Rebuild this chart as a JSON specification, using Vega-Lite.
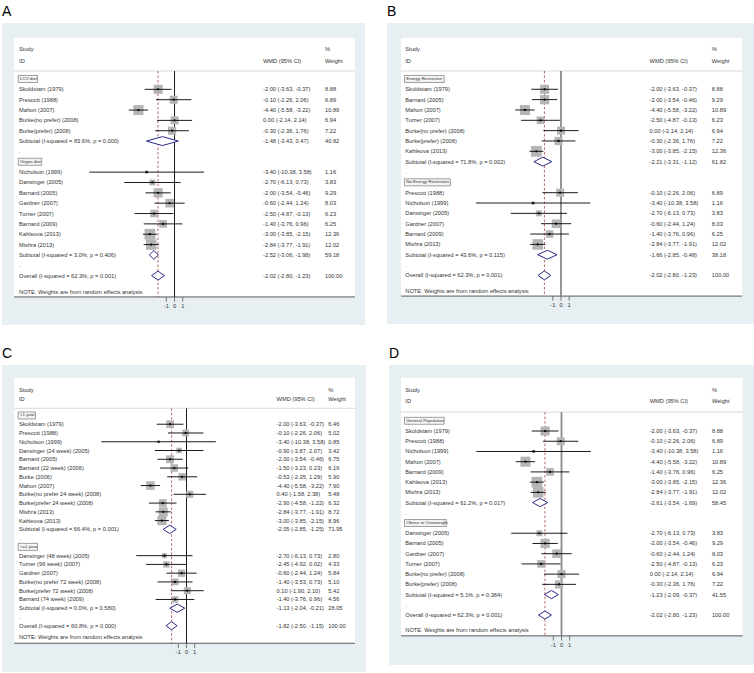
{
"$schema": "https://vega.github.io/schema/vega-lite/v6.json",
"background": "white",
"padding": {"left": 2, "top": 5, "right": 0, "bottom": 0},
"spacing": 22,
"config": {
  "view": {"fill": "#e7eff2", "stroke": null},
  "font": "Liberation Sans",
  "locale": {"number": {"decimal": ".", "thousands": ",", "grouping": [3], "currency": ["$", ""], "minus": "-"}},
  "title": {"fontSize": 14, "fontWeight": "normal", "anchor": "start", "offset": 4, "color": "black", "font": "Liberation Sans"},
  "text": {"font": "Liberation Sans", "color": "#333333", "align": "left", "baseline": "middle", "fontSize": 5.7}
},
"datasets": {"fp": [
{"p":"A","r":-2.9,"t":"h","label":"Study","wt":"%"},
{"p":"A","r":-1.77,"t":"h","label":"ID","ci":"WMD (95% CI)","wt":"Weight"},
{"p":"A","r":0,"t":"g","label":"LCV diet"},
{"p":"A","r":1,"t":"s","label":"Skoldstam (1979)","est":-2.00,"lo":-3.63,"hi":-0.37,"w":8.88},
{"p":"A","r":2,"t":"s","label":"Prescott (1988)","est":-0.10,"lo":-2.26,"hi":2.06,"w":6.89},
{"p":"A","r":3,"t":"s","label":"Mahon (2007)","est":-4.40,"lo":-5.58,"hi":-3.22,"w":10.89},
{"p":"A","r":4,"t":"s","label":"Burke(no prefer) (2008)","est":0.00,"lo":-2.14,"hi":2.14,"w":6.94},
{"p":"A","r":5,"t":"s","label":"Burke(prefer) (2008)","est":-0.30,"lo":-2.36,"hi":1.76,"w":7.22},
{"p":"A","r":6,"t":"u","label":"Subtotal  (I-squared = 83.6%, p = 0.000)","est":-1.48,"lo":-3.43,"hi":0.47,"w":40.82},
{"p":"A","r":7,"t":"d","label":"."},
{"p":"A","r":8,"t":"g","label":"Vegan diet"},
{"p":"A","r":9,"t":"s","label":"Nicholson (1999)","est":-3.40,"lo":-10.38,"hi":3.58,"w":1.16},
{"p":"A","r":10,"t":"s","label":"Dansinger  (2005)","est":-2.70,"lo":-6.13,"hi":0.73,"w":3.83},
{"p":"A","r":11,"t":"s","label":"Barnard (2005)","est":-2.00,"lo":-3.54,"hi":-0.46,"w":9.29},
{"p":"A","r":12,"t":"s","label":"Gardner (2007)","est":-0.60,"lo":-2.44,"hi":1.24,"w":8.03},
{"p":"A","r":13,"t":"s","label":"Turner (2007)","est":-2.50,"lo":-4.87,"hi":-0.13,"w":6.23},
{"p":"A","r":14,"t":"s","label":"Barnard (2009)","est":-1.40,"lo":-3.76,"hi":0.96,"w":6.25},
{"p":"A","r":15,"t":"s","label":"Kahleova (2013)","est":-3.00,"lo":-3.85,"hi":-2.15,"w":12.36},
{"p":"A","r":16,"t":"s","label":"Mishra (2013)","est":-2.84,"lo":-3.77,"hi":-1.91,"w":12.02},
{"p":"A","r":17,"t":"u","label":"Subtotal  (I-squared = 3.0%, p = 0.406)","est":-2.52,"lo":-3.06,"hi":-1.98,"w":59.18},
{"p":"A","r":18,"t":"d","label":"."},
{"p":"A","r":19,"t":"o","label":"Overall  (I-squared = 62.3%, p = 0.001)","est":-2.02,"lo":-2.80,"hi":-1.23,"w":100.00},
{"p":"A","r":20.55,"t":"n","label":"NOTE: Weights are from random effects analysis"},

{"p":"B","r":-2.9,"t":"h","label":"Study","wt":"%"},
{"p":"B","r":-1.77,"t":"h","label":"ID","ci":"WMD (95% CI)","wt":"Weight"},
{"p":"B","r":0,"t":"g","label":"Energy Restriction"},
{"p":"B","r":1,"t":"s","label":"Skoldstam (1979)","est":-2.00,"lo":-3.63,"hi":-0.37,"w":8.88},
{"p":"B","r":2,"t":"s","label":"Barnard (2005)","est":-2.00,"lo":-3.54,"hi":-0.46,"w":9.29},
{"p":"B","r":3,"t":"s","label":"Mahon (2007)","est":-4.40,"lo":-5.58,"hi":-3.22,"w":10.89},
{"p":"B","r":4,"t":"s","label":"Turner (2007)","est":-2.50,"lo":-4.87,"hi":-0.13,"w":6.23},
{"p":"B","r":5,"t":"s","label":"Burke(no prefer) (2008)","est":0.00,"lo":-2.14,"hi":2.14,"w":6.94},
{"p":"B","r":6,"t":"s","label":"Burke(prefer) (2008)","est":-0.30,"lo":-2.36,"hi":1.76,"w":7.22},
{"p":"B","r":7,"t":"s","label":"Kahleova (2013)","est":-3.00,"lo":-3.85,"hi":-2.15,"w":12.36},
{"p":"B","r":8,"t":"u","label":"Subtotal  (I-squared = 71.8%, p = 0.002)","est":-2.21,"lo":-3.31,"hi":-1.12,"w":61.82},
{"p":"B","r":9,"t":"d","label":"."},
{"p":"B","r":10,"t":"g","label":"No Energy Restriction"},
{"p":"B","r":11,"t":"s","label":"Prescott (1988)","est":-0.10,"lo":-2.26,"hi":2.06,"w":6.89},
{"p":"B","r":12,"t":"s","label":"Nicholson (1999)","est":-3.40,"lo":-10.38,"hi":3.58,"w":1.16},
{"p":"B","r":13,"t":"s","label":"Dansinger  (2005)","est":-2.70,"lo":-6.13,"hi":0.73,"w":3.83},
{"p":"B","r":14,"t":"s","label":"Gardner (2007)","est":-0.60,"lo":-2.44,"hi":1.24,"w":8.03},
{"p":"B","r":15,"t":"s","label":"Barnard (2009)","est":-1.40,"lo":-3.76,"hi":0.96,"w":6.25},
{"p":"B","r":16,"t":"s","label":"Mishra (2013)","est":-2.84,"lo":-3.77,"hi":-1.91,"w":12.02},
{"p":"B","r":17,"t":"u","label":"Subtotal  (I-squared = 43.6%, p = 0.115)","est":-1.66,"lo":-2.85,"hi":-0.48,"w":38.18},
{"p":"B","r":18,"t":"d","label":"."},
{"p":"B","r":19,"t":"o","label":"Overall  (I-squared = 62.3%, p = 0.001)","est":-2.02,"lo":-2.80,"hi":-1.23,"w":100.00},
{"p":"B","r":20.55,"t":"n","label":"NOTE: Weights are from random effects analysis"},

{"p":"C","r":-2.9,"t":"h","label":"Study","wt":"%"},
{"p":"C","r":-1.9,"t":"h","label":"ID","ci":"WMD (95% CI)","wt":"Weight"},
{"p":"C","r":0,"t":"g","label":"<1 year"},
{"p":"C","r":1,"t":"s","label":"Skoldstam (1979)","est":-2.00,"lo":-3.63,"hi":-0.37,"w":6.46},
{"p":"C","r":2,"t":"s","label":"Prescott (1988)","est":-0.10,"lo":-2.26,"hi":2.06,"w":5.02},
{"p":"C","r":3,"t":"s","label":"Nicholson (1999)","est":-3.40,"lo":-10.38,"hi":3.58,"w":0.85},
{"p":"C","r":4,"t":"s","label":"Dansinger (24 week) (2005)","est":-0.90,"lo":-3.87,"hi":2.07,"w":3.42},
{"p":"C","r":5,"t":"s","label":"Barnard (2005)","est":-2.00,"lo":-3.54,"hi":-0.46,"w":6.75},
{"p":"C","r":6,"t":"s","label":"Barnard (22 week) (2006)","est":-1.50,"lo":-3.23,"hi":0.23,"w":6.16},
{"p":"C","r":7,"t":"s","label":"Burke (2006)","est":-0.53,"lo":-2.35,"hi":1.29,"w":5.90},
{"p":"C","r":8,"t":"s","label":"Mahon (2007)","est":-4.40,"lo":-5.58,"hi":-3.22,"w":7.90},
{"p":"C","r":9,"t":"s","label":"Burke(no prefer 24 week) (2008)","est":0.40,"lo":-1.58,"hi":2.38,"w":5.48},
{"p":"C","r":10,"t":"s","label":"Burke(prefer 24 week) (2008)","est":-2.90,"lo":-4.58,"hi":-1.22,"w":6.32},
{"p":"C","r":11,"t":"s","label":"Mishra (2013)","est":-2.84,"lo":-3.77,"hi":-1.91,"w":8.72},
{"p":"C","r":12,"t":"s","label":"Kahleova (2013)","est":-3.00,"lo":-3.85,"hi":-2.15,"w":8.96},
{"p":"C","r":13,"t":"u","label":"Subtotal  (I-squared = 66.4%, p = 0.001)","est":-2.05,"lo":-2.85,"hi":-1.25,"w":71.95},
{"p":"C","r":14,"t":"d","label":"."},
{"p":"C","r":15,"t":"g","label":">=1 year"},
{"p":"C","r":16,"t":"s","label":"Dansinger (48 week) (2005)","est":-2.70,"lo":-6.13,"hi":0.73,"w":2.80},
{"p":"C","r":17,"t":"s","label":"Turner (96 week) (2007)","est":-2.45,"lo":-4.92,"hi":0.02,"w":4.33},
{"p":"C","r":18,"t":"s","label":"Gardner (2007)","est":-0.60,"lo":-2.44,"hi":1.24,"w":5.84},
{"p":"C","r":19,"t":"s","label":"Burke(no prefer 72 week) (2008)","est":-1.40,"lo":-3.53,"hi":0.73,"w":5.10},
{"p":"C","r":20,"t":"s","label":"Burke(prefer 72 week) (2008)","est":0.10,"lo":-1.90,"hi":2.10,"w":5.42},
{"p":"C","r":21,"t":"s","label":"Barnard (74 week) (2009)","est":-1.40,"lo":-3.76,"hi":0.96,"w":4.56},
{"p":"C","r":22,"t":"u","label":"Subtotal  (I-squared = 0.0%, p = 0.580)","est":-1.13,"lo":-2.04,"hi":-0.21,"w":28.05},
{"p":"C","r":23,"t":"d","label":"."},
{"p":"C","r":24,"t":"o","label":"Overall  (I-squared = 60.8%, p = 0.000)","est":-1.82,"lo":-2.50,"hi":-1.15,"w":100.00},
{"p":"C","r":25.25,"t":"n","label":"NOTE: Weights are from random effects analysis"},

{"p":"D","r":-3.0,"t":"h","label":"Study","wt":"%"},
{"p":"D","r":-1.9,"t":"h","label":"ID","ci":"WMD (95% CI)","wt":"Weight"},
{"p":"D","r":0,"t":"g","label":"General Population"},
{"p":"D","r":1,"t":"s","label":"Skoldstam (1979)","est":-2.00,"lo":-3.63,"hi":-0.37,"w":8.88},
{"p":"D","r":2,"t":"s","label":"Prescott (1988)","est":-0.10,"lo":-2.26,"hi":2.06,"w":6.89},
{"p":"D","r":3,"t":"s","label":"Nicholson (1999)","est":-3.40,"lo":-10.38,"hi":3.58,"w":1.16},
{"p":"D","r":4,"t":"s","label":"Mahon (2007)","est":-4.40,"lo":-5.58,"hi":-3.22,"w":10.89},
{"p":"D","r":5,"t":"s","label":"Barnard (2009)","est":-1.40,"lo":-3.76,"hi":0.96,"w":6.25},
{"p":"D","r":6,"t":"s","label":"Kahleova (2013)","est":-3.00,"lo":-3.85,"hi":-2.15,"w":12.36},
{"p":"D","r":7,"t":"s","label":"Mishra (2013)","est":-2.84,"lo":-3.77,"hi":-1.91,"w":12.02},
{"p":"D","r":8,"t":"u","label":"Subtotal  (I-squared = 61.2%, p = 0.017)","est":-2.61,"lo":-3.54,"hi":-1.69,"w":58.45},
{"p":"D","r":9,"t":"d","label":"."},
{"p":"D","r":10,"t":"g","label":"Obese or Overweight"},
{"p":"D","r":11,"t":"s","label":"Dansinger  (2005)","est":-2.70,"lo":-6.13,"hi":0.73,"w":3.83},
{"p":"D","r":12,"t":"s","label":"Barnard (2005)","est":-2.00,"lo":-3.54,"hi":-0.46,"w":9.29},
{"p":"D","r":13,"t":"s","label":"Gardner (2007)","est":-0.60,"lo":-2.44,"hi":1.24,"w":8.03},
{"p":"D","r":14,"t":"s","label":"Turner (2007)","est":-2.50,"lo":-4.87,"hi":-0.13,"w":6.23},
{"p":"D","r":15,"t":"s","label":"Burke(no prefer) (2008)","est":0.00,"lo":-2.14,"hi":2.14,"w":6.94},
{"p":"D","r":16,"t":"s","label":"Burke(prefer) (2008)","est":-0.30,"lo":-2.36,"hi":1.76,"w":7.22},
{"p":"D","r":17,"t":"u","label":"Subtotal  (I-squared = 5.1%, p = 0.384)","est":-1.23,"lo":-2.09,"hi":-0.37,"w":41.55},
{"p":"D","r":18,"t":"d","label":"."},
{"p":"D","r":19,"t":"o","label":"Overall  (I-squared = 62.3%, p = 0.001)","est":-2.02,"lo":-2.80,"hi":-1.23,"w":100.00},
{"p":"D","r":20.5,"t":"n","label":"NOTE: Weights are from random effects analysis"}
]},
"vconcat": [
{"hconcat": [
{
 "title": "A", "width": 363, "height": 302,
 "layer": [
  {"data":{"values":[{}]},"mark":{"type":"rect","fill":"white"},"encoding":{"x":{"datum":-19.57,"type":"quantitative","axis":null},"x2":{"datum":22.0},"y":{"datum":-3.96,"type":"quantitative","axis":null},"y2":{"datum":21.06}}},
  {"data":{"values":[{}]},"mark":{"type":"rule","color":"#cfcfcf","strokeWidth":0.8},"encoding":{"x":{"datum":-19.57,"type":"quantitative","axis":null},"x2":{"datum":22.0},"y":{"datum":-0.77,"type":"quantitative","axis":null}}},
  {"data":{"values":[{}]},"mark":{"type":"rule","color":"#5a5a5a","strokeWidth":1},"encoding":{"x":{"datum":-19.57,"type":"quantitative","axis":null},"x2":{"datum":22.0},"y":{"datum":21.06,"type":"quantitative","axis":null}}},
  {"data":{"values":[{"v":-1},{"v":0},{"v":1}]},"mark":{"type":"rule","color":"#5a5a5a","strokeWidth":0.8},"encoding":{"x":{"field":"v","type":"quantitative","scale":{"domain":[-21.04,23.23],"nice":false,"zero":false},"axis":null},"y":{"datum":21.06,"type":"quantitative","axis":null},"y2":{"datum":21.51}}},
  {"data":{"values":[{"v":-1},{"v":0},{"v":1}]},"mark":{"type":"text","align":"center"},"encoding":{"x":{"field":"v","type":"quantitative","scale":{"domain":[-21.04,23.23],"nice":false,"zero":false},"axis":null},"y":{"datum":21.91,"type":"quantitative","axis":null},"text":{"field":"v","type":"quantitative","format":"d"}}},
  {"data":{"values":[{}]},"mark":{"type":"rule","color":"black","strokeWidth":0.9},"encoding":{"x":{"datum":0,"type":"quantitative","axis":null},"y":{"datum":-0.77,"type":"quantitative","axis":null},"y2":{"datum":21.06}}},
  {"data":{"values":[{}]},"mark":{"type":"rule","color":"#a84444","strokeWidth":0.8,"strokeDash":[2.5,2]},"encoding":{"x":{"datum":-2.02,"type":"quantitative","axis":null},"y":{"datum":-0.77,"type":"quantitative","axis":null},"y2":{"datum":21.06}}},
  {"data":{"name":"fp"},"transform":[{"filter":"datum.p=='A' && datum.t=='s'"}],"mark":{"type":"square","filled":true,"color":"#b5b5b5","opacity":1},"encoding":{"x":{"field":"est","type":"quantitative","scale":{"domain":[-21.04,23.23],"nice":false,"zero":false},"axis":null},"y":{"field":"r","type":"quantitative","scale":{"domain":[-5.41,23.77],"nice":false,"zero":false,"reverse":true},"axis":null},"size":{"field":"w","type":"quantitative","scale":{"domain":[0,12.36],"range":[0,115]},"legend":null}}},
  {"data":{"name":"fp"},"transform":[{"filter":"datum.p=='A' && datum.t=='s'"}],"mark":{"type":"rule","color":"black","strokeWidth":0.9},"encoding":{"x":{"field":"lo","type":"quantitative","scale":{"domain":[-21.04,23.23],"nice":false,"zero":false},"axis":null},"x2":{"field":"hi"},"y":{"field":"r","type":"quantitative","scale":{"domain":[-5.41,23.77],"nice":false,"zero":false,"reverse":true},"axis":null}}},
  {"data":{"name":"fp"},"transform":[{"filter":"datum.p=='A' && datum.t=='s'"}],"mark":{"type":"point","filled":true,"color":"black","size":5,"opacity":1},"encoding":{"x":{"field":"est","type":"quantitative","scale":{"domain":[-21.04,23.23],"nice":false,"zero":false},"axis":null},"y":{"field":"r","type":"quantitative","scale":{"domain":[-5.41,23.77],"nice":false,"zero":false,"reverse":true},"axis":null}}},
  {"data":{"name":"fp"},"transform":[{"filter":"datum.p=='A' && (datum.t=='u' || datum.t=='o')"},{"fold":["lo","est","hi"],"as":["k","xv"]},{"calculate":"datum.k=='est' ? 0.43 : 0","as":"dh"},{"calculate":"datum.r - datum.dh","as":"yt"},{"calculate":"datum.r + datum.dh","as":"yb"}],"mark":{"type":"area","orient":"vertical","fill":"white","fillOpacity":1,"stroke":"#2b2b88","strokeWidth":1},"encoding":{"x":{"field":"xv","type":"quantitative","scale":{"domain":[-21.04,23.23],"nice":false,"zero":false},"axis":null},"y":{"field":"yt","type":"quantitative","scale":{"domain":[-5.41,23.77],"nice":false,"zero":false,"reverse":true},"axis":null},"y2":{"field":"yb"},"detail":{"field":"r","type":"nominal"}}},
  {"data":{"name":"fp"},"transform":[{"filter":"datum.p=='A' && datum.t=='g'"},{"calculate":"-19.06","as":"bs"},{"calculate":"-19.06 + (3 + 2.04*length(datum.label))/8.2","as":"be"},{"calculate":"datum.r - 0.34","as":"bt"},{"calculate":"datum.r + 0.34","as":"bb"}],"mark":{"type":"rect","fill":"#f4f4f4","stroke":"#777777","strokeWidth":0.7},"encoding":{"x":{"field":"bs","type":"quantitative","scale":{"domain":[-21.04,23.23],"nice":false,"zero":false},"axis":null},"x2":{"field":"be"},"y":{"field":"bt","type":"quantitative","scale":{"domain":[-5.41,23.77],"nice":false,"zero":false,"reverse":true},"axis":null},"y2":{"field":"bb"}}},
  {"data":{"name":"fp"},"transform":[{"filter":"datum.p=='A' && datum.t=='g'"}],"mark":{"type":"text","fontSize":4.4},"encoding":{"x":{"datum":-18.84,"type":"quantitative","axis":null},"y":{"field":"r","type":"quantitative","scale":{"domain":[-5.41,23.77],"nice":false,"zero":false,"reverse":true},"axis":null},"text":{"field":"label","type":"nominal"}}},
  {"data":{"name":"fp"},"transform":[{"filter":"datum.p=='A' && datum.t!='g'"}],"mark":{"type":"text"},"encoding":{"x":{"datum":-18.96,"type":"quantitative","axis":null},"y":{"field":"r","type":"quantitative","scale":{"domain":[-5.41,23.77],"nice":false,"zero":false,"reverse":true},"axis":null},"text":{"field":"label","type":"nominal"}}},
  {"data":{"name":"fp"},"transform":[{"filter":"datum.p=='A' && (isValid(datum.ci) || isValid(datum.est))"},{"calculate":"isValid(datum.ci) ? datum.ci : format(datum.est,'.2f') + ' (' + format(datum.lo,'.2f') + ', ' + format(datum.hi,'.2f') + ')'","as":"ct"}],"mark":{"type":"text"},"encoding":{"x":{"datum":10.79,"type":"quantitative","axis":null},"y":{"field":"r","type":"quantitative","scale":{"domain":[-5.41,23.77],"nice":false,"zero":false,"reverse":true},"axis":null},"text":{"field":"ct","type":"nominal"}}},
  {"data":{"name":"fp"},"transform":[{"filter":"datum.p=='A' && (isValid(datum.wt) || isValid(datum.w))"},{"calculate":"isValid(datum.wt) ? datum.wt : format(datum.w,'.2f')","as":"wtt"}],"mark":{"type":"text"},"encoding":{"x":{"datum":18.35,"type":"quantitative","axis":null},"y":{"field":"r","type":"quantitative","scale":{"domain":[-5.41,23.77],"nice":false,"zero":false,"reverse":true},"axis":null},"text":{"field":"wtt","type":"nominal"}}}
 ]
},
{
 "title": "B", "width": 367, "height": 301,
 "layer": [
  {"data":{"values":[{}]},"mark":{"type":"rect","fill":"white"},"encoding":{"x":{"datum":-19.5,"type":"quantitative","axis":null},"x2":{"datum":22.07},"y":{"datum":-3.96,"type":"quantitative","axis":null},"y2":{"datum":21.0}}},
  {"data":{"values":[{}]},"mark":{"type":"rule","color":"#cfcfcf","strokeWidth":0.8},"encoding":{"x":{"datum":-19.5,"type":"quantitative","axis":null},"x2":{"datum":22.07},"y":{"datum":-0.77,"type":"quantitative","axis":null}}},
  {"data":{"values":[{}]},"mark":{"type":"rule","color":"#5a5a5a","strokeWidth":1},"encoding":{"x":{"datum":-19.5,"type":"quantitative","axis":null},"x2":{"datum":22.07},"y":{"datum":21.0,"type":"quantitative","axis":null}}},
  {"data":{"values":[{"v":-1},{"v":0},{"v":1}]},"mark":{"type":"rule","color":"#5a5a5a","strokeWidth":0.8},"encoding":{"x":{"field":"v","type":"quantitative","scale":{"domain":[-21.22,23.54],"nice":false,"zero":false},"axis":null},"y":{"datum":21.0,"type":"quantitative","axis":null},"y2":{"datum":21.45}}},
  {"data":{"values":[{"v":-1},{"v":0},{"v":1}]},"mark":{"type":"text","align":"center"},"encoding":{"x":{"field":"v","type":"quantitative","scale":{"domain":[-21.22,23.54],"nice":false,"zero":false},"axis":null},"y":{"datum":21.85,"type":"quantitative","axis":null},"text":{"field":"v","type":"quantitative","format":"d"}}},
  {"data":{"values":[{}]},"mark":{"type":"rule","color":"#8a8a8a","strokeWidth":1.8},"encoding":{"x":{"datum":0,"type":"quantitative","axis":null},"y":{"datum":-0.77,"type":"quantitative","axis":null},"y2":{"datum":21.0}}},
  {"data":{"values":[{}]},"mark":{"type":"rule","color":"#a84444","strokeWidth":0.8,"strokeDash":[2.5,2]},"encoding":{"x":{"datum":-2.02,"type":"quantitative","axis":null},"y":{"datum":-0.77,"type":"quantitative","axis":null},"y2":{"datum":21.0}}},
  {"data":{"name":"fp"},"transform":[{"filter":"datum.p=='B' && datum.t=='s'"}],"mark":{"type":"square","filled":true,"color":"#b5b5b5","opacity":1},"encoding":{"x":{"field":"est","type":"quantitative","scale":{"domain":[-21.22,23.54],"nice":false,"zero":false},"axis":null},"y":{"field":"r","type":"quantitative","scale":{"domain":[-5.41,23.7],"nice":false,"zero":false,"reverse":true},"axis":null},"size":{"field":"w","type":"quantitative","scale":{"domain":[0,12.36],"range":[0,115]},"legend":null}}},
  {"data":{"name":"fp"},"transform":[{"filter":"datum.p=='B' && datum.t=='s'"}],"mark":{"type":"rule","color":"black","strokeWidth":0.9},"encoding":{"x":{"field":"lo","type":"quantitative","scale":{"domain":[-21.22,23.54],"nice":false,"zero":false},"axis":null},"x2":{"field":"hi"},"y":{"field":"r","type":"quantitative","scale":{"domain":[-5.41,23.7],"nice":false,"zero":false,"reverse":true},"axis":null}}},
  {"data":{"name":"fp"},"transform":[{"filter":"datum.p=='B' && datum.t=='s'"}],"mark":{"type":"point","filled":true,"color":"black","size":5,"opacity":1},"encoding":{"x":{"field":"est","type":"quantitative","scale":{"domain":[-21.22,23.54],"nice":false,"zero":false},"axis":null},"y":{"field":"r","type":"quantitative","scale":{"domain":[-5.41,23.7],"nice":false,"zero":false,"reverse":true},"axis":null}}},
  {"data":{"name":"fp"},"transform":[{"filter":"datum.p=='B' && (datum.t=='u' || datum.t=='o')"},{"fold":["lo","est","hi"],"as":["k","xv"]},{"calculate":"datum.k=='est' ? 0.43 : 0","as":"dh"},{"calculate":"datum.r - datum.dh","as":"yt"},{"calculate":"datum.r + datum.dh","as":"yb"}],"mark":{"type":"area","orient":"vertical","fill":"white","fillOpacity":1,"stroke":"#2b2b88","strokeWidth":1},"encoding":{"x":{"field":"xv","type":"quantitative","scale":{"domain":[-21.22,23.54],"nice":false,"zero":false},"axis":null},"y":{"field":"yt","type":"quantitative","scale":{"domain":[-5.41,23.7],"nice":false,"zero":false,"reverse":true},"axis":null},"y2":{"field":"yb"},"detail":{"field":"r","type":"nominal"}}},
  {"data":{"name":"fp"},"transform":[{"filter":"datum.p=='B' && datum.t=='g'"},{"calculate":"-19.09","as":"bs"},{"calculate":"-19.09 + (3 + 2.04*length(datum.label))/8.2","as":"be"},{"calculate":"datum.r - 0.34","as":"bt"},{"calculate":"datum.r + 0.34","as":"bb"}],"mark":{"type":"rect","fill":"#f4f4f4","stroke":"#777777","strokeWidth":0.7},"encoding":{"x":{"field":"bs","type":"quantitative","scale":{"domain":[-21.22,23.54],"nice":false,"zero":false},"axis":null},"x2":{"field":"be"},"y":{"field":"bt","type":"quantitative","scale":{"domain":[-5.41,23.7],"nice":false,"zero":false,"reverse":true},"axis":null},"y2":{"field":"bb"}}},
  {"data":{"name":"fp"},"transform":[{"filter":"datum.p=='B' && datum.t=='g'"}],"mark":{"type":"text","fontSize":4.4},"encoding":{"x":{"datum":-18.87,"type":"quantitative","axis":null},"y":{"field":"r","type":"quantitative","scale":{"domain":[-5.41,23.7],"nice":false,"zero":false,"reverse":true},"axis":null},"text":{"field":"label","type":"nominal"}}},
  {"data":{"name":"fp"},"transform":[{"filter":"datum.p=='B' && datum.t!='g'"}],"mark":{"type":"text"},"encoding":{"x":{"datum":-18.99,"type":"quantitative","axis":null},"y":{"field":"r","type":"quantitative","scale":{"domain":[-5.41,23.7],"nice":false,"zero":false,"reverse":true},"axis":null},"text":{"field":"label","type":"nominal"}}},
  {"data":{"name":"fp"},"transform":[{"filter":"datum.p=='B' && (isValid(datum.ci) || isValid(datum.est))"},{"calculate":"isValid(datum.ci) ? datum.ci : format(datum.est,'.2f') + ' (' + format(datum.lo,'.2f') + ', ' + format(datum.hi,'.2f') + ')'","as":"ct"}],"mark":{"type":"text"},"encoding":{"x":{"datum":10.8,"type":"quantitative","axis":null},"y":{"field":"r","type":"quantitative","scale":{"domain":[-5.41,23.7],"nice":false,"zero":false,"reverse":true},"axis":null},"text":{"field":"ct","type":"nominal"}}},
  {"data":{"name":"fp"},"transform":[{"filter":"datum.p=='B' && (isValid(datum.wt) || isValid(datum.w))"},{"calculate":"isValid(datum.wt) ? datum.wt : format(datum.w,'.2f')","as":"wtt"}],"mark":{"type":"text"},"encoding":{"x":{"datum":18.4,"type":"quantitative","axis":null},"y":{"field":"r","type":"quantitative","scale":{"domain":[-5.41,23.7],"nice":false,"zero":false,"reverse":true},"axis":null},"text":{"field":"wtt","type":"nominal"}}}
 ]
}
], "spacing": 22},
{"hconcat": [
{
 "title": "C", "width": 364, "height": 307,
 "layer": [
  {"data":{"values":[{}]},"mark":{"type":"rect","fill":"white"},"encoding":{"x":{"datum":-21.0,"type":"quantitative","axis":null},"x2":{"datum":20.55},"y":{"datum":-4.28,"type":"quantitative","axis":null},"y2":{"datum":26.0}}},
  {"data":{"values":[{}]},"mark":{"type":"rule","color":"#cfcfcf","strokeWidth":0.8},"encoding":{"x":{"datum":-21.0,"type":"quantitative","axis":null},"x2":{"datum":20.55},"y":{"datum":-0.82,"type":"quantitative","axis":null}}},
  {"data":{"values":[{}]},"mark":{"type":"rule","color":"#5a5a5a","strokeWidth":1},"encoding":{"x":{"datum":-21.0,"type":"quantitative","axis":null},"x2":{"datum":20.55},"y":{"datum":26.0,"type":"quantitative","axis":null}}},
  {"data":{"values":[{"v":-1},{"v":0},{"v":1}]},"mark":{"type":"rule","color":"#5a5a5a","strokeWidth":0.8},"encoding":{"x":{"field":"v","type":"quantitative","scale":{"domain":[-22.5,21.89],"nice":false,"zero":false},"axis":null},"y":{"datum":26.0,"type":"quantitative","axis":null},"y2":{"datum":26.55}}},
  {"data":{"values":[{"v":-1},{"v":0},{"v":1}]},"mark":{"type":"text","align":"center"},"encoding":{"x":{"field":"v","type":"quantitative","scale":{"domain":[-22.5,21.89],"nice":false,"zero":false},"axis":null},"y":{"datum":27.0,"type":"quantitative","axis":null},"text":{"field":"v","type":"quantitative","format":"d"}}},
  {"data":{"values":[{}]},"mark":{"type":"rule","color":"black","strokeWidth":0.9},"encoding":{"x":{"datum":0,"type":"quantitative","axis":null},"y":{"datum":-0.82,"type":"quantitative","axis":null},"y2":{"datum":26.0}}},
  {"data":{"values":[{}]},"mark":{"type":"rule","color":"#a84444","strokeWidth":0.8,"strokeDash":[2.5,2]},"encoding":{"x":{"datum":-1.82,"type":"quantitative","axis":null},"y":{"datum":-0.82,"type":"quantitative","axis":null},"y2":{"datum":26.0}}},
  {"data":{"name":"fp"},"transform":[{"filter":"datum.p=='C' && datum.t=='s'"}],"mark":{"type":"square","filled":true,"color":"#b5b5b5","opacity":1},"encoding":{"x":{"field":"est","type":"quantitative","scale":{"domain":[-22.5,21.89],"nice":false,"zero":false},"axis":null},"y":{"field":"r","type":"quantitative","scale":{"domain":[-5.76,29.28],"nice":false,"zero":false,"reverse":true},"axis":null},"size":{"field":"w","type":"quantitative","scale":{"domain":[0,8.96],"range":[0,128]},"legend":null}}},
  {"data":{"name":"fp"},"transform":[{"filter":"datum.p=='C' && datum.t=='s'"}],"mark":{"type":"rule","color":"black","strokeWidth":0.9},"encoding":{"x":{"field":"lo","type":"quantitative","scale":{"domain":[-22.5,21.89],"nice":false,"zero":false},"axis":null},"x2":{"field":"hi"},"y":{"field":"r","type":"quantitative","scale":{"domain":[-5.76,29.28],"nice":false,"zero":false,"reverse":true},"axis":null}}},
  {"data":{"name":"fp"},"transform":[{"filter":"datum.p=='C' && datum.t=='s'"}],"mark":{"type":"point","filled":true,"color":"black","size":5,"opacity":1},"encoding":{"x":{"field":"est","type":"quantitative","scale":{"domain":[-22.5,21.89],"nice":false,"zero":false},"axis":null},"y":{"field":"r","type":"quantitative","scale":{"domain":[-5.76,29.28],"nice":false,"zero":false,"reverse":true},"axis":null}}},
  {"data":{"name":"fp"},"transform":[{"filter":"datum.p=='C' && (datum.t=='u' || datum.t=='o')"},{"fold":["lo","est","hi"],"as":["k","xv"]},{"calculate":"datum.k=='est' ? 0.47 : 0","as":"dh"},{"calculate":"datum.r - datum.dh","as":"yt"},{"calculate":"datum.r + datum.dh","as":"yb"}],"mark":{"type":"area","orient":"vertical","fill":"white","fillOpacity":1,"stroke":"#2b2b88","strokeWidth":1},"encoding":{"x":{"field":"xv","type":"quantitative","scale":{"domain":[-22.5,21.89],"nice":false,"zero":false},"axis":null},"y":{"field":"yt","type":"quantitative","scale":{"domain":[-5.76,29.28],"nice":false,"zero":false,"reverse":true},"axis":null},"y2":{"field":"yb"},"detail":{"field":"r","type":"nominal"}}},
  {"data":{"name":"fp"},"transform":[{"filter":"datum.p=='C' && datum.t=='g'"},{"calculate":"-20.53","as":"bs"},{"calculate":"-20.53 + (3 + 2.04*length(datum.label))/8.2","as":"be"},{"calculate":"datum.r - 0.4","as":"bt"},{"calculate":"datum.r + 0.4","as":"bb"}],"mark":{"type":"rect","fill":"#f4f4f4","stroke":"#777777","strokeWidth":0.7},"encoding":{"x":{"field":"bs","type":"quantitative","scale":{"domain":[-22.5,21.89],"nice":false,"zero":false},"axis":null},"x2":{"field":"be"},"y":{"field":"bt","type":"quantitative","scale":{"domain":[-5.76,29.28],"nice":false,"zero":false,"reverse":true},"axis":null},"y2":{"field":"bb"}}},
  {"data":{"name":"fp"},"transform":[{"filter":"datum.p=='C' && datum.t=='g'"}],"mark":{"type":"text","fontSize":4.4},"encoding":{"x":{"datum":-20.31,"type":"quantitative","axis":null},"y":{"field":"r","type":"quantitative","scale":{"domain":[-5.76,29.28],"nice":false,"zero":false,"reverse":true},"axis":null},"text":{"field":"label","type":"nominal"}}},
  {"data":{"name":"fp"},"transform":[{"filter":"datum.p=='C' && datum.t!='g'"}],"mark":{"type":"text"},"encoding":{"x":{"datum":-20.43,"type":"quantitative","axis":null},"y":{"field":"r","type":"quantitative","scale":{"domain":[-5.76,29.28],"nice":false,"zero":false,"reverse":true},"axis":null},"text":{"field":"label","type":"nominal"}}},
  {"data":{"name":"fp"},"transform":[{"filter":"datum.p=='C' && (isValid(datum.ci) || isValid(datum.est))"},{"calculate":"isValid(datum.ci) ? datum.ci : format(datum.est,'.2f') + ' (' + format(datum.lo,'.2f') + ', ' + format(datum.hi,'.2f') + ')'","as":"ct"}],"mark":{"type":"text"},"encoding":{"x":{"datum":10.98,"type":"quantitative","axis":null},"y":{"field":"r","type":"quantitative","scale":{"domain":[-5.76,29.28],"nice":false,"zero":false,"reverse":true},"axis":null},"text":{"field":"ct","type":"nominal"}}},
  {"data":{"name":"fp"},"transform":[{"filter":"datum.p=='C' && (isValid(datum.wt) || isValid(datum.w))"},{"calculate":"isValid(datum.wt) ? datum.wt : format(datum.w,'.2f')","as":"wtt"}],"mark":{"type":"text"},"encoding":{"x":{"datum":17.29,"type":"quantitative","axis":null},"y":{"field":"r","type":"quantitative","scale":{"domain":[-5.76,29.28],"nice":false,"zero":false,"reverse":true},"axis":null},"text":{"field":"wtt","type":"nominal"}}}
 ]
},
{
 "title": "D", "width": 365, "height": 300,
 "layer": [
  {"data":{"values":[{}]},"mark":{"type":"rect","fill":"white"},"encoding":{"x":{"datum":-19.57,"type":"quantitative","axis":null},"x2":{"datum":22.1},"y":{"datum":-4.2,"type":"quantitative","axis":null},"y2":{"datum":21.04}}},
  {"data":{"values":[{}]},"mark":{"type":"rule","color":"#cfcfcf","strokeWidth":0.8},"encoding":{"x":{"datum":-19.57,"type":"quantitative","axis":null},"x2":{"datum":22.1},"y":{"datum":-0.85,"type":"quantitative","axis":null}}},
  {"data":{"values":[{}]},"mark":{"type":"rule","color":"#5a5a5a","strokeWidth":1},"encoding":{"x":{"datum":-19.57,"type":"quantitative","axis":null},"x2":{"datum":22.1},"y":{"datum":21.04,"type":"quantitative","axis":null}}},
  {"data":{"values":[{"v":-1},{"v":0},{"v":1}]},"mark":{"type":"rule","color":"#5a5a5a","strokeWidth":0.8},"encoding":{"x":{"field":"v","type":"quantitative","scale":{"domain":[-21.04,23.48],"nice":false,"zero":false},"axis":null},"y":{"datum":21.04,"type":"quantitative","axis":null},"y2":{"datum":21.5}}},
  {"data":{"values":[{"v":-1},{"v":0},{"v":1}]},"mark":{"type":"text","align":"center"},"encoding":{"x":{"field":"v","type":"quantitative","scale":{"domain":[-21.04,23.48],"nice":false,"zero":false},"axis":null},"y":{"datum":21.92,"type":"quantitative","axis":null},"text":{"field":"v","type":"quantitative","format":"d"}}},
  {"data":{"values":[{}]},"mark":{"type":"rule","color":"#8a8a8a","strokeWidth":1.8},"encoding":{"x":{"datum":0,"type":"quantitative","axis":null},"y":{"datum":-0.85,"type":"quantitative","axis":null},"y2":{"datum":21.04}}},
  {"data":{"values":[{}]},"mark":{"type":"rule","color":"#a84444","strokeWidth":0.8,"strokeDash":[2.5,2]},"encoding":{"x":{"datum":-2.02,"type":"quantitative","axis":null},"y":{"datum":-0.85,"type":"quantitative","axis":null},"y2":{"datum":21.04}}},
  {"data":{"name":"fp"},"transform":[{"filter":"datum.p=='D' && datum.t=='s'"}],"mark":{"type":"square","filled":true,"color":"#b5b5b5","opacity":1},"encoding":{"x":{"field":"est","type":"quantitative","scale":{"domain":[-21.04,23.48],"nice":false,"zero":false},"axis":null},"y":{"field":"r","type":"quantitative","scale":{"domain":[-5.46,23.89],"nice":false,"zero":false,"reverse":true},"axis":null},"size":{"field":"w","type":"quantitative","scale":{"domain":[0,12.36],"range":[0,115]},"legend":null}}},
  {"data":{"name":"fp"},"transform":[{"filter":"datum.p=='D' && datum.t=='s'"}],"mark":{"type":"rule","color":"black","strokeWidth":0.9},"encoding":{"x":{"field":"lo","type":"quantitative","scale":{"domain":[-21.04,23.48],"nice":false,"zero":false},"axis":null},"x2":{"field":"hi"},"y":{"field":"r","type":"quantitative","scale":{"domain":[-5.46,23.89],"nice":false,"zero":false,"reverse":true},"axis":null}}},
  {"data":{"name":"fp"},"transform":[{"filter":"datum.p=='D' && datum.t=='s'"}],"mark":{"type":"point","filled":true,"color":"black","size":5,"opacity":1},"encoding":{"x":{"field":"est","type":"quantitative","scale":{"domain":[-21.04,23.48],"nice":false,"zero":false},"axis":null},"y":{"field":"r","type":"quantitative","scale":{"domain":[-5.46,23.89],"nice":false,"zero":false,"reverse":true},"axis":null}}},
  {"data":{"name":"fp"},"transform":[{"filter":"datum.p=='D' && (datum.t=='u' || datum.t=='o')"},{"fold":["lo","est","hi"],"as":["k","xv"]},{"calculate":"datum.k=='est' ? 0.4 : 0","as":"dh"},{"calculate":"datum.r - datum.dh","as":"yt"},{"calculate":"datum.r + datum.dh","as":"yb"}],"mark":{"type":"area","orient":"vertical","fill":"white","fillOpacity":1,"stroke":"#2b2b88","strokeWidth":1},"encoding":{"x":{"field":"xv","type":"quantitative","scale":{"domain":[-21.04,23.48],"nice":false,"zero":false},"axis":null},"y":{"field":"yt","type":"quantitative","scale":{"domain":[-5.46,23.89],"nice":false,"zero":false,"reverse":true},"axis":null},"y2":{"field":"yb"},"detail":{"field":"r","type":"nominal"}}},
  {"data":{"name":"fp"},"transform":[{"filter":"datum.p=='D' && datum.t=='g'"},{"calculate":"-19.15","as":"bs"},{"calculate":"-19.15 + (3 + 2.04*length(datum.label))/8.2","as":"be"},{"calculate":"datum.r - 0.34","as":"bt"},{"calculate":"datum.r + 0.34","as":"bb"}],"mark":{"type":"rect","fill":"#f4f4f4","stroke":"#777777","strokeWidth":0.7},"encoding":{"x":{"field":"bs","type":"quantitative","scale":{"domain":[-21.04,23.48],"nice":false,"zero":false},"axis":null},"x2":{"field":"be"},"y":{"field":"bt","type":"quantitative","scale":{"domain":[-5.46,23.89],"nice":false,"zero":false,"reverse":true},"axis":null},"y2":{"field":"bb"}}},
  {"data":{"name":"fp"},"transform":[{"filter":"datum.p=='D' && datum.t=='g'"}],"mark":{"type":"text","fontSize":4.4},"encoding":{"x":{"datum":-18.93,"type":"quantitative","axis":null},"y":{"field":"r","type":"quantitative","scale":{"domain":[-5.46,23.89],"nice":false,"zero":false,"reverse":true},"axis":null},"text":{"field":"label","type":"nominal"}}},
  {"data":{"name":"fp"},"transform":[{"filter":"datum.p=='D' && datum.t!='g'"}],"mark":{"type":"text"},"encoding":{"x":{"datum":-19.05,"type":"quantitative","axis":null},"y":{"field":"r","type":"quantitative","scale":{"domain":[-5.46,23.89],"nice":false,"zero":false,"reverse":true},"axis":null},"text":{"field":"label","type":"nominal"}}},
  {"data":{"name":"fp"},"transform":[{"filter":"datum.p=='D' && (isValid(datum.ci) || isValid(datum.est))"},{"calculate":"isValid(datum.ci) ? datum.ci : format(datum.est,'.2f') + ' (' + format(datum.lo,'.2f') + ', ' + format(datum.hi,'.2f') + ')'","as":"ct"}],"mark":{"type":"text"},"encoding":{"x":{"datum":10.76,"type":"quantitative","axis":null},"y":{"field":"r","type":"quantitative","scale":{"domain":[-5.46,23.89],"nice":false,"zero":false,"reverse":true},"axis":null},"text":{"field":"ct","type":"nominal"}}},
  {"data":{"name":"fp"},"transform":[{"filter":"datum.p=='D' && (isValid(datum.wt) || isValid(datum.w))"},{"calculate":"isValid(datum.wt) ? datum.wt : format(datum.w,'.2f')","as":"wtt"}],"mark":{"type":"text"},"encoding":{"x":{"datum":18.35,"type":"quantitative","axis":null},"y":{"field":"r","type":"quantitative","scale":{"domain":[-5.46,23.89],"nice":false,"zero":false,"reverse":true},"axis":null},"text":{"field":"wtt","type":"nominal"}}}
 ]
}
], "spacing": 23}
]
}
